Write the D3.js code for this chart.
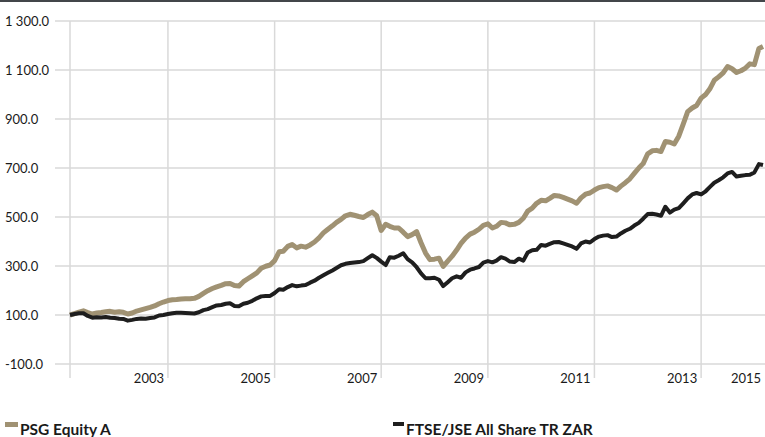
<!DOCTYPE html>
<html>
<head>
<meta charset="utf-8">
<title>PSG Equity A vs FTSE/JSE</title>
<script src="https://d3js.org/d3.v7.min.js"></script>
<style>
  body { margin: 0; background: #fff; }
  text { font-family: Lato, "Open Sans", sans-serif; fill: #1a1a1a; }
</style>
</head>
<body>
<div id="stage"></div>
<script>
// monthly series, rebased to 100 at the first month
var startMonth = new Date(2001, 2, 1);
var psg = [
  100, 106, 112, 117, 110, 104, 108, 110, 113, 115, 111, 113, 111, 104, 108, 116, 121, 126, 131, 137,
  146, 153, 159, 162, 163, 165, 166, 166, 168, 176, 188, 199, 208, 215, 221, 228, 229, 220, 218, 236,
  248, 260, 272, 291, 299, 304, 322, 358, 360, 380, 388, 374, 381, 377, 386, 398, 415, 435, 450, 464,
  478, 490, 505, 511, 507, 502, 498, 510, 520, 505, 445, 470, 462, 455, 455, 438, 420, 428, 440, 395,
  353, 326, 328, 332, 298, 320, 340, 365, 392, 414, 430, 438, 450, 466, 472, 455, 462, 478, 476, 468,
  470, 478, 495, 524, 536, 556, 568, 566, 576, 588, 586, 580, 573, 566, 556, 578, 593, 598, 610, 620,
  624, 627, 620, 610, 626, 640, 656, 678, 700, 718, 758, 770, 772, 767, 808, 805, 798, 830, 880, 930,
  945, 955, 985, 1000, 1022, 1058, 1072, 1088, 1114, 1105, 1090, 1097, 1108, 1125, 1122, 1188, 1196
];
var ftse = [
  100, 104, 107, 107, 96, 89, 91, 90, 92, 89, 88, 85, 84, 77, 80, 84, 86, 85, 88, 90,
  98, 100, 104, 107, 109, 109, 108, 107, 106, 111, 120, 124, 132, 139, 141, 146, 148, 137, 136, 146,
  150, 158, 168, 176, 178, 178, 190, 205, 203, 214, 222, 217, 220, 222, 232, 240, 252, 262, 272, 282,
  292, 303, 309, 312, 314, 316, 320, 332, 344, 333, 318, 304, 336, 334, 342, 352, 328, 315, 295, 270,
  250, 250, 252, 244, 218, 234, 250, 258, 252, 274, 285, 290, 296, 314, 320, 315, 322, 336, 330, 318,
  316, 330, 322, 355, 364, 366, 386, 383, 390, 397, 398, 392, 386, 380, 370, 392, 400, 396, 410, 420,
  424, 426, 418, 420, 433, 444, 452, 465, 476, 493, 512, 513, 510, 505, 542, 518, 530, 536, 556, 576,
  592, 598, 592, 605, 622, 640, 650, 662, 678, 684, 665, 668, 671, 672, 682, 716, 712
];
var yTicks = [-100, 100, 300, 500, 700, 900, 1100, 1300];
var xTickYears = [2003, 2005, 2007, 2009, 2011, 2013, 2015];
var seriesNames = ["PSG Equity A", "FTSE/JSE All Share TR ZAR"];
var seriesColors = ["#a09273", "#1e1e1e"];

var months = psg.map(function(d, i) { return d3.timeMonth.offset(startMonth, i); });

var width = 765, height = 437;
var plotLeft = 70, plotRight = 763, plotTop = 21, plotBottom = 364;

var svg = d3.select("#stage")
  .append("svg")
    .attr("width", width)
    .attr("height", height);

// dark strip along the top edge
svg.append("rect")
  .attr("x", 0).attr("y", 0)
  .attr("width", width).attr("height", 2)
  .attr("fill", "#43464a");

var x = d3.scaleTime().domain([months[0], months[months.length - 1]]).range([plotLeft, plotRight]);
var y = d3.scaleLinear().domain([-100, 1300]).range([plotBottom, plotTop]);

var fmt = d3.formatLocale({ decimal: ".", thousands: " ", grouping: [3], currency: ["", ""], minus: "-" }).format(",.1f");

// horizontal gridlines + value labels
svg.append("g").selectAll("line")
  .data(yTicks)
  .enter().append("line")
    .attr("x1", 55).attr("x2", width)
    .attr("y1", function(d) { return y(d); })
    .attr("y2", function(d) { return y(d); })
    .attr("stroke", "#d9d9d9")
    .attr("stroke-width", 1.5);

svg.append("g").selectAll("text")
  .data(yTicks)
  .enter().append("text")
    .attr("x", 5)
    .attr("y", function(d) { return y(d); })
    .attr("dy", "0.35em")
    .style("font-size", "13px")
    .text(function(d) { return fmt(d); });

// vertical gridlines: axis start and every second January
var gridDates = [months[0]].concat(xTickYears.map(function(yr) { return new Date(yr, 0, 1); })
  .filter(function(d) { return d <= months[months.length - 1]; }));

svg.append("g").selectAll("line")
  .data(gridDates)
  .enter().append("line")
    .attr("x1", function(d) { return x(d); })
    .attr("x2", function(d) { return x(d); })
    .attr("y1", plotTop).attr("y2", plotBottom + 14)
    .attr("stroke", "#d9d9d9")
    .attr("stroke-width", 1.5);

// year labels sit just left of their gridline; the last one is pulled inside the plot
svg.append("g").selectAll("text")
  .data(xTickYears)
  .enter().append("text")
    .attr("x", function(d) { return Math.min(x(new Date(d, 0, 1)) - 19, plotRight - 17); })
    .attr("y", plotBottom + 19)
    .attr("text-anchor", "middle")
    .style("font-size", "13px")
    .text(function(d) { return d; });

// series lines
var line = d3.line()
  .x(function(d, i) { return x(months[i]); })
  .y(function(d) { return y(d); });

svg.append("path")
  .datum(psg)
  .attr("d", line)
  .attr("fill", "none")
  .attr("stroke", seriesColors[0])
  .attr("stroke-width", 5)
  .attr("stroke-linejoin", "round");

svg.append("path")
  .datum(ftse)
  .attr("d", line)
  .attr("fill", "none")
  .attr("stroke", seriesColors[1])
  .attr("stroke-width", 4)
  .attr("stroke-linejoin", "round");

// legend
var legendX = [5, 393];
var legend = svg.append("g").selectAll("g")
  .data(seriesNames)
  .enter().append("g")
    .attr("transform", function(d, i) { return "translate(" + legendX[i] + ",0)"; });

legend.append("rect")
  .attr("x", 0).attr("y", 422)
  .attr("width", function(d, i) { return i === 0 ? 13 : 11; })
  .attr("height", function(d, i) { return i === 0 ? 5 : 4; })
  .attr("fill", function(d, i) { return seriesColors[i]; });

legend.append("text")
  .attr("x", function(d, i) { return i === 0 ? 15 : 13; })
  .attr("y", 435)
  .style("font-size", "15.5px")
  .style("font-weight", "bold")
  .text(function(d) { return d; });
</script>
</body>
</html>
